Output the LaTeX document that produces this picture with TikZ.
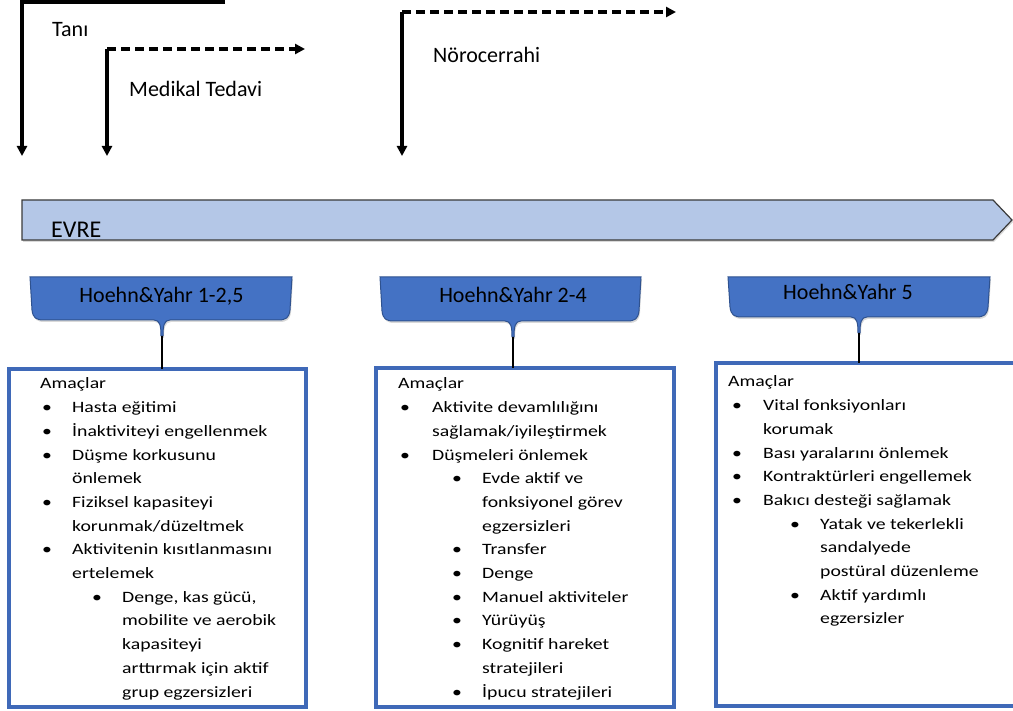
\documentclass[tikz,border=0pt]{standalone}
\usepackage{fontspec}
\setmainfont{Carlito}
\newfontfamily\boxfont{Carlito}[FakeStretch=1.25]
\usetikzlibrary{arrows.meta,shadows}
\definecolor{hyblue}{HTML}{4472C4}
\definecolor{hyedge}{HTML}{2F528F}
\definecolor{boxblue}{HTML}{3F69B8}
\definecolor{evrefill}{HTML}{B4C7E7}
\definecolor{evreedge}{HTML}{3A3A3A}

\def\gbA{2pt}\def\gtA{32pt}\def\gsA{52pt}\def\gcA{82pt}
\newcommand\gL[1]{\par\noindent#1}
\newcommand\gB[1]{\par\noindent\hspace*{\gbA}\makebox[\dimexpr\gtA-\gbA\relax][l]{•}#1}
\newcommand\gC[1]{\par\noindent\hspace*{\gtA}#1}
\newcommand\gS[1]{\par\noindent\hspace*{\gsA}\makebox[\dimexpr\gcA-\gsA\relax][l]{•}#1}
\newcommand\gT[1]{\par\noindent\hspace*{\gcA}#1}
\newcommand\hycallout[4]{%
  \path[callout] (#1,277) -- (#2,277) -- (#2-2,#4-10)
    .. controls (#2-3,#4-2) and (#2-6,#4) .. (#2-14,#4)
    -- (#3+8,#4) .. controls (#3+2,#4) and (#3+1,#4+6) .. (#3+1,#4+16)
    -- (#3-1,#4+16) .. controls (#3-1,#4+6) and (#3-2,#4) .. (#3-8,#4)
    -- (#1+14,#4) .. controls (#1+6,#4) and (#1+3,#4-2) .. (#1+2,#4-10)
    -- cycle;}

\tikzset{
  flow/.style={line width=3.4pt, line join=miter, -{Triangle[length=10pt,width=10pt]}},
  flowd/.style={flow, dash pattern=on 9pt off 5pt},
  lbl/.style={inner sep=0pt, anchor=base west, font=\fontsize{22}{26}\selectfont},
  hytxt/.style={inner sep=0pt, anchor=base, font=\fontsize{22}{26}\selectfont},
  callout/.style={fill=hyblue, draw=hyedge, line width=1pt,
    drop shadow={shadow xshift=1pt, shadow yshift=-2pt, opacity=0.3}},
  evrebar/.style={fill=evrefill, draw=evreedge, line width=1.2pt,
    drop shadow={shadow xshift=1pt, shadow yshift=-2pt, opacity=0.3}},
  goalbox/.style={draw=boxblue, line width=3.2pt, inner sep=0pt, outer sep=0pt, anchor=north west},
  goaltxt/.style={inner sep=0pt, anchor=base west, font=\boxfont\fontsize{15.8}{23.7}\selectfont},
  stem/.style={line width=2pt},
}

\begin{document}
\begin{tikzpicture}[x=1pt,y=-1pt]
\useasboundingbox (0,0) rectangle (1013,711);

% timeline arrows
\coordinate (taR) at (225,2);
\coordinate (taC) at (22,2);
\coordinate (taB) at (22,156);
\draw[flow] (taR) -- (taC) -- (taB);
\node[lbl] (tani) at (52,37) {Tanı};

\coordinate (meC) at (107,49);
\coordinate (meB) at (107,156);
\coordinate (meR) at (305,49);
\draw[flow] (meC) -- (meB);
\draw[flowd] (meC) -- (meR);
\node[lbl] (medikal) at (129,97) {Medikal Tedavi};

\coordinate (noC) at (402,12);
\coordinate (noB) at (402,156);
\coordinate (noR) at (676,12);
\draw[flow] (noC) -- (noB);
\draw[flowd] (noC) -- (noR);
\node[lbl] (noro) at (433,63) {Nörocerrahi};

% EVRE bar
\path[evrebar] (22,200) -- (993,200) -- (1012,220) -- (993,240) -- (22,240) -- cycle;
\node[lbl, font=\fontsize{24}{28}\selectfont] (evre) at (51,238) {EVRE};

% callouts
\hycallout{30}{292}{162}{320}
\hycallout{380}{641}{513}{321}
\hycallout{728}{990}{859}{317}
\node[hytxt] (h1) at (161.5,303) {Hoehn\&Yahr 1-2,5};
\node[hytxt] (h2) at (513,303) {Hoehn\&Yahr 2-4};
\node[hytxt] (h3) at (848,300) {Hoehn\&Yahr 5};
\coordinate (s1) at (162,336);
\coordinate (s2) at (513,337);
\coordinate (s3) at (859,333);

% goal boxes
\node[goalbox, minimum width=297pt, minimum height=338pt] (g1) at (9,369) {};
\node[goalbox, minimum width=298pt, minimum height=339pt] (g2) at (376,368) {};
\node[goalbox, minimum width=312pt, minimum height=343pt] (g3) at (716,363) {};

\draw[stem] (s1) -- (s1 |- g1.north);
\draw[stem] (s2) -- (s2 |- g2.north);
\draw[stem] (s3) -- (s3 |- g3.north);

\node[goaltxt] (t1) at (40,389) {\vtop{\hsize=330pt\parindent=0pt\parskip=0pt
  \gL{Amaçlar}
  \gB{Hasta eğitimi}
  \gB{İnaktiviteyi engellenmek}
  \gB{Düşme korkusunu}
  \gC{önlemek}
  \gB{Fiziksel kapasiteyi}
  \gC{korunmak/düzeltmek}
  \gB{Aktivitenin kısıtlanmasını}
  \gC{ertelemek}
  \gS{Denge, kas gücü,}
  \gT{mobilite ve aerobik}
  \gT{kapasiteyi}
  \gT{arttırmak için aktif}
  \gT{grup egzersizleri}}};

\node[goaltxt] (t2) at (398,389) {\vtop{\hsize=330pt\parindent=0pt\parskip=0pt
  \def\gbA{2pt}\def\gtA{34pt}\def\gsA{54pt}\def\gcA{84pt}%
  \gL{Amaçlar}
  \gB{Aktivite devamlılığını}
  \gC{sağlamak/iyileştirmek}
  \gB{Düşmeleri önlemek}
  \gS{Evde aktif ve}
  \gT{fonksiyonel görev}
  \gT{egzersizleri}
  \gS{Transfer}
  \gS{Denge}
  \gS{Manuel aktiviteler}
  \gS{Yürüyüş}
  \gS{Kognitif hareket}
  \gT{stratejileri}
  \gS{İpucu stratejileri}}};

\node[goaltxt] (t3) at (728,387) {\vtop{\hsize=330pt\parindent=0pt\parskip=0pt
  \def\gbA{4pt}\def\gtA{35pt}\def\gsA{62pt}\def\gcA{92pt}%
  \gL{Amaçlar}
  \gB{Vital fonksiyonları}
  \gC{korumak}
  \gB{Bası yaralarını önlemek}
  \gB{Kontraktürleri engellemek}
  \gB{Bakıcı desteği sağlamak}
  \gS{Yatak ve tekerlekli}
  \gT{sandalyede}
  \gT{postüral düzenleme}
  \gS{Aktif yardımlı}
  \gT{egzersizler}}};
\end{tikzpicture}
\end{document}
